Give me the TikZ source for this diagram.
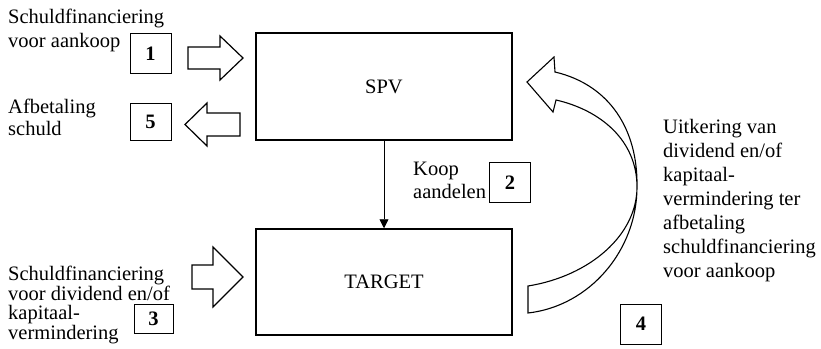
\documentclass[tikz,border=0pt]{standalone}
\usepackage{fontspec}
\setmainfont{Liberation Serif}
\usetikzlibrary{arrows.meta}
\begin{document}
\begin{tikzpicture}[x=1pt,y=-1pt,
  txt/.style={font=\fontsize{20.5}{24}\selectfont, inner sep=0pt, anchor=base west, align=left},
  mainbox/.style={draw, line width=1.5pt, minimum width=256pt, inner sep=0pt, font=\fontsize{20.5}{24}\selectfont},
  numbox/.style={draw, line width=0.8pt, minimum width=41pt, minimum height=40pt, inner sep=0pt, font=\fontsize{20.5}{24}\selectfont\bfseries},
  blockarrow/.style={draw, line width=1.2pt, fill=white, line join=miter}]
\useasboundingbox (0,0) rectangle (821,348);
% main boxes
\node[mainbox, minimum height=107pt] (spv) at (384,86.5) {SPV};
\node[mainbox, minimum height=106pt] (target) at (384,282) {TARGET};
% number boxes
\node[numbox] (n1) at (150.5,53.5) {1};
\node[numbox, minimum height=37pt] (n5) at (150.5,121.5) {5};
\node[numbox, minimum width=39pt, minimum height=29pt] (n3) at (153.5,318.5) {3};
\node[numbox] (n2) at (510,182.5) {2};
\node[numbox] (n4) at (641,324) {4};
% texts (anchored at the baseline of the last line)
\node[txt] (t1) at (8,47) {Schuldfinanciering\\voor aankoop};
\node[txt, font=\fontsize{20.5}{22}\selectfont] (t5) at (8,135) {Afbetaling\\schuld};
\node[txt, font=\fontsize{20.5}{19.5}\selectfont] (t3) at (8,339) {Schuldfinanciering\\voor dividend en/of\\kapitaal-\\vermindering};
\node[txt, font=\fontsize{20.5}{23}\selectfont] (t2) at (413,198) {Koop\\aandelen};
\node[txt] (t4) at (663,277) {Uitkering van\\dividend en/of\\kapitaal-\\vermindering ter\\afbetaling\\schuldfinanciering\\voor aankoop};
% vertical arrow
\draw[line width=0.8pt, -{Triangle[length=9pt,width=9pt]}] (spv.south) -- (target.north);
% block arrows
\draw[blockarrow] (188,47) -- (220,47) -- (220,36) -- (243,58) -- (220,80) -- (220,69) -- (188,69) -- cycle;
\draw[blockarrow] (240,113) -- (207,113) -- (207,103) -- (185,124.5) -- (207,146) -- (207,136) -- (240,136) -- cycle;
\draw[blockarrow] (192,265) -- (213,265) -- (213,247) -- (243,277) -- (213,307) -- (213,289) -- (192,289) -- cycle;
% curved arrow
\draw[blockarrow, line width=1.1pt] (528,286) .. controls (590,276) and (637,235) .. (637,187)
  .. controls (637,140) and (600,110) .. (556,100) -- (553,112) -- (527,82) -- (554,57) -- (555,72)
  .. controls (610,85) and (638,130) .. (637,187)
  .. controls (637,250) and (590,306) .. (528,313) -- cycle;
\end{tikzpicture}
\end{document}
